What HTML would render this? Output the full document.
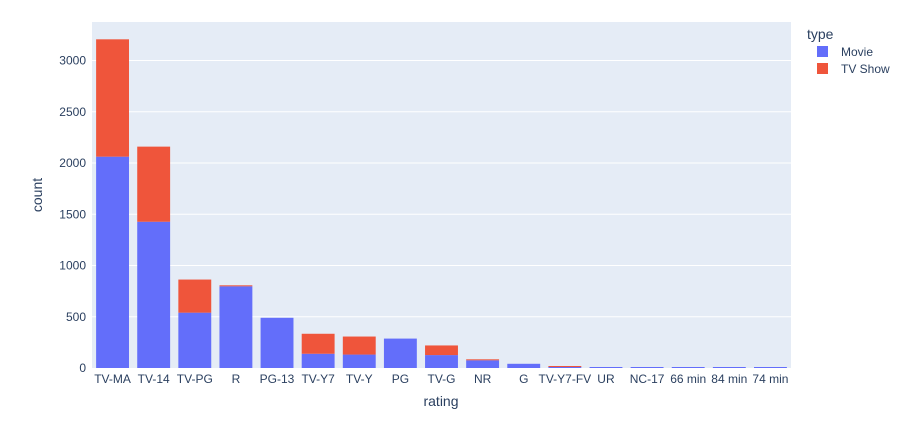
<!DOCTYPE html>
<html><head><meta charset="utf-8"><style>
body{margin:0;background:#fff;font-family:"Liberation Sans",Arial,sans-serif}
svg text{font-family:"Liberation Sans",Arial,sans-serif;fill:#2a3f5f}
</style></head><body>
<svg id="chart" width="905" height="432" xmlns="http://www.w3.org/2000/svg">
<rect x="92" y="22" width="699" height="346" fill="#e5ecf6"/>
<g id="grid"></g><g id="bars"></g><g id="xt"></g><g id="yt"></g>
<text x="441" y="406" text-anchor="middle" font-size="14">rating</text>
<text transform="translate(42,195) rotate(-90)" text-anchor="middle" font-size="14">count</text>
<text x="807" y="39" font-size="14">type</text>
<g><rect x="817" y="46" width="11" height="11" fill="#636efa"/><text x="841" y="56" font-size="12">Movie</text></g>
<g><rect x="817" y="63" width="11" height="11" fill="#ef553b"/><text x="841" y="73" font-size="12">TV Show</text></g>
</svg>
<script>
const categories=["TV-MA","TV-14","TV-PG","R","PG-13","TV-Y7","TV-Y","PG","TV-G","NR","G","TV-Y7-FV","UR","NC-17","66 min","84 min","74 min"];
const movie=[2062,1427,540,797,490,139,131,287,126,75,41,5,3,3,1,1,1];
const tvShow=[1145,733,323,2,0,195,176,0,94,5,0,1,0,0,0,0,0];
const yTicks=[0,500,1000,1500,2000,2500,3000];
const NS="http://www.w3.org/2000/svg";
const L=92,R=791,T=22,B=368,yMax=3376;
const band=(R-L)/categories.length, bw=band*0.8;
const y=v=>B-v/yMax*(B-T);
const xc=i=>L+band*(i+0.5);
function mk(tag,at,parent){const e=document.createElementNS(NS,tag);for(const k in at)e.setAttribute(k,at[k]);document.getElementById(parent).appendChild(e);return e;}
yTicks.forEach(t=>{
  if(t>0){const g=mk('line',{x1:L,x2:R,y1:y(t),y2:y(t),stroke:'#fff','stroke-width':1},'grid');
  
  }
  const tx=mk('text',{x:L-6,y:y(t)+4,'text-anchor':'end','font-size':12},'yt');tx.textContent=t;
  
  
});
categories.forEach((c,i)=>{
  const mh=Math.max(1,B-y(movie[i]));
  const m=mk('rect',{x:xc(i)-bw/2,y:B-mh,width:bw,height:mh,fill:'#636efa'},'bars');
  
  
  if(tvShow[i]>0){const sh=Math.max(1,y(movie[i])-y(movie[i]+tvShow[i]));
  const s=mk('rect',{x:xc(i)-bw/2,y:B-mh-sh,width:bw,height:sh,fill:'#ef553b'},'bars');
  
  }
  const tx=mk('text',{x:xc(i),y:B+15,'text-anchor':'middle','font-size':12},'xt');tx.textContent=c;
  
  
});
</script>
</body></html>
